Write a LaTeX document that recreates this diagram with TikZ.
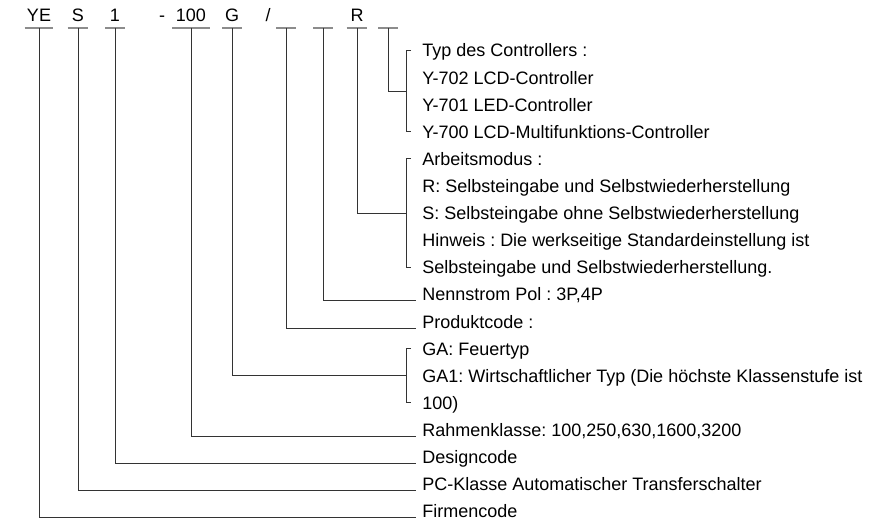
\documentclass[tikz,border=0pt]{standalone}
\usepackage{fontspec}
\setmainfont{Liberation Sans}
\usetikzlibrary{calc}
\frenchspacing

\begin{document}
\begin{tikzpicture}[
	font = \fontsize{12.8}{15}\selectfont,
	code/.style = {anchor = south, minimum width = 0.48 cm, inner xsep = 0 cm, inner ysep = 0.15 cm, text depth = 0 pt},
	desc/.style = {anchor = base west, inner xsep = 0.15 cm, inner ysep = 0 pt, text height = 9.2 pt, text depth = 0 pt},
	bar/.style = {line width = 1.3 pt, black!45},
	conn/.style = {line width = 0.7 pt, black!80}
]

	\useasboundingbox (0, 0) rectangle (22.075, -13.025);

	% Type code
	
	\node [code, minimum width = 0.7 cm] (ye) at (0.975, -0.6925) {YE};
	\node [code, minimum width = 0.5 cm] (s) at (1.95, -0.6925) {S};
	\node [code] (one) at (2.875, -0.6925) {1};
	\node [anchor = base] (dash) at (4.05, -0.5425) {-};
	\node [code, minimum width = 0.925 cm] (hundred) at (4.775, -0.6925) {100};
	\node [code] (g) at (5.8, -0.6925) {G};
	\node [anchor = base] (slash) at (6.7, -0.5425) {/};
	\node [code] (blankA) at (7.15, -0.6925) {};
	\node [code] (blankB) at (8.075, -0.6925) {};
	\node [code, minimum width = 0.5 cm] (r) at (8.925, -0.6925) {R};
	\node [code] (blankC) at (9.7, -0.6925) {};

	\foreach \c in {ye, s, one, hundred, g, blankA, blankB, r, blankC}
		\draw [bar] (\c.south west) -- (\c.south east);

	% Descriptions
	
	\foreach \name/\txt [count = \i from 0] in {
			typ/{Typ des Controllers :},
			lcd/{Y-702 LCD-Controller},
			led/{Y-701 LED-Controller},
			multi/{Y-700 LCD-Multifunktions-Controller},
			work/{Arbeitsmodus :},
			workR/{R: Selbsteingabe und Selbstwiederherstellung},
			workS/{S: Selbsteingabe ohne Selbstwiederherstellung},
			hint/{Hinweis : Die werkseitige Standardeinstellung ist},
			hintb/{Selbsteingabe und Selbstwiederherstellung.},
			amps/{Nennstrom Pol : 3P,4P},
			prod/{Produktcode :},
			ga/{GA: Feuertyp},
			gaone/{GA1: Wirtschaftlicher Typ (Die höchste Klassenstufe ist},
			gaend/{100)},
			frame/{Rahmenklasse: 100,250,630,1600,3200},
			design/{Designcode},
			pc/{PC-Klasse Automatischer Transferschalter},
			firm/{Firmencode}}
		\node [desc] (\name) at (10.4, {-1.425 - 0.6775 * \i}) {\txt};

	% Single lines
	
	\draw [conn] (ye.south) |- (firm.base west);
	\draw [conn] (s.south) |- (pc.base west);
	\draw [conn] (one.south) |- (design.base west);
	\draw [conn] (hundred.south) |- (frame.base west);
	\draw [conn] (blankA.south) |- (prod.base west);
	\draw [conn] (blankB.south) |- (amps.base west);

	% Brackets
	
	\foreach \top/\bottom/\c in {typ/multi/blankC, work/hintb/r, ga/gaend/g} {
		\draw [conn] ([xshift = -0.125 cm] \top.west) -| ([xshift = -0.25 cm] \bottom.west) -- ([xshift = -0.125 cm] \bottom.west);
		\coordinate (\c mid) at ($(\top.west)!0.5!(\bottom.west) + (-0.25, 0)$);
		\draw [conn] (\c.south) |- (\c mid);
	}

\end{tikzpicture}
\end{document}
